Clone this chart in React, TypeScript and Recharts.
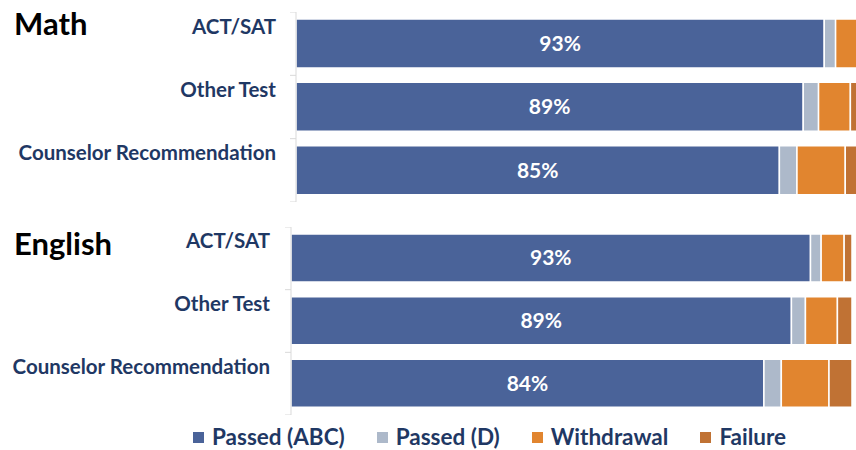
import { BarChart, Bar, XAxis, YAxis, LabelList } from "recharts"

const categories = ["ACT/SAT", "Other Test", "Counselor Recommendation"]
const seriesNames = ["Passed (ABC)", "Passed (D)", "Withdrawal", "Failure"]
const seriesKeys = ["abc", "d", "withdrawal", "failure"]
const seriesColors = ["#4A6399", "#ADB9CA", "#E1852F", "#C07234"]

// math percentages per category, in series order
const mathAbc = [93.0, 89.3, 85.1]
const mathD = [2.0, 2.7, 3.1]
const mathWithdrawal = [4.0, 5.6, 8.5]
const mathFailure = [1.0, 2.4, 3.3]

const englishAbc = [92.6, 89.2, 84.3]
const englishD = [1.9, 2.5, 3.1]
const englishWithdrawal = [4.1, 5.7, 8.5]
const englishFailure = [1.4, 2.6, 4.1]

const buildRows = (abc: number[], d: number[], w: number[], f: number[]) =>
  categories.map((name, i) => ({ name, abc: abc[i], d: d[i], withdrawal: w[i], failure: f[i] }))

const mathData = buildRows(mathAbc, mathD, mathWithdrawal, mathFailure)
const englishData = buildRows(englishAbc, englishD, englishWithdrawal, englishFailure)

const FONT = "Lato, 'Open Sans', sans-serif"
const NAVY = "#1F3864"

const CategoryTick = ({ x, y, payload, index, band, labelRight }: any) => {
  const axisX = x + 8
  return (
    <g>
      <text x={labelRight} y={y - 18} textAnchor="end" dominantBaseline="central"
        fill={NAVY} fontFamily={FONT} fontWeight={700} fontSize={20.5}>
        {payload.value}
      </text>
      <line x1={axisX - 6} x2={axisX} y1={y - band / 2} y2={y - band / 2} stroke="#D9D9D9" />
      {index === categories.length - 1 && (
        <line x1={axisX - 6} x2={axisX} y1={y + band / 2} y2={y + band / 2} stroke="#D9D9D9" />
      )}
    </g>
  )
}

function Panel({ data, width, height, axisWidth, labelRight, barSize }: any) {
  const band = height / categories.length
  return (
    <BarChart layout="vertical" width={width} height={height} data={data}
      margin={{ top: 0, right: 0, bottom: 0, left: 0 }} barSize={barSize}>
      <XAxis type="number" domain={[0, 100]} hide />
      <YAxis type="category" dataKey="name" width={axisWidth} stroke="#D9D9D9"
        tickLine={false} interval={0}
        tick={<CategoryTick band={band} labelRight={labelRight} />} />
      {seriesKeys.map((key, i) => (
        <Bar key={key} dataKey={key} stackId="s" fill={seriesColors[i]}
          stroke="#fff" strokeWidth={1.5} isAnimationActive={false}>
          {i === 0 && (
            <LabelList dataKey={key} position="center" fill="#fff" fontFamily={FONT}
              fontWeight={700} fontSize={21} formatter={(v: any) => `${Math.round(v)}%`} />
          )}
        </Bar>
      ))}
    </BarChart>
  )
}

const titleStyle: any = {
  position: "absolute", left: 14, fontFamily: FONT, fontWeight: 700, fontSize: 31, color: "#000", lineHeight: 1,
}

export default function App() {
  return (
    <div style={{ position: "absolute", left: 0, top: 0, width: 856, height: 450, overflow: "hidden", background: "#fff" }}>
      <div style={{ ...titleStyle, top: 8 }}>Math</div>
      <div style={{ ...titleStyle, top: 228 }}>English</div>
      <div style={{ position: "absolute", left: 0, top: 12 }}>
        <Panel data={mathData} width={864} height={190} axisWidth={296} labelRight={276} barSize={49} />
      </div>
      <div style={{ position: "absolute", left: 0, top: 227 }}>
        <Panel data={englishData} width={852} height={188} axisWidth={291} labelRight={270} barSize={48} />
      </div>
      <div style={{ position: "absolute", left: 193, top: 422, display: "flex", gap: 32,
        fontFamily: FONT, fontWeight: 700, fontSize: 22.5, color: NAVY, lineHeight: "30px" }}>
        {seriesNames.map((n, i) => (
          <div key={n} style={{ display: "flex", alignItems: "center", gap: 8 }}>
            <span style={{ width: 11, height: 11, background: seriesColors[i], display: "inline-block" }} />
            <span>{n}</span>
          </div>
        ))}
      </div>
    </div>
  )
}
